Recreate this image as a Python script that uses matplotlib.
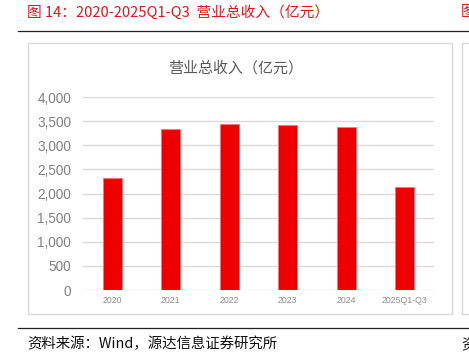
import matplotlib
matplotlib.use('Agg')
import matplotlib.pyplot as plt
from matplotlib.patches import Rectangle
from matplotlib.lines import Line2D

plt.rcParams['font.family'] = ['Noto Sans CJK SC', 'DejaVu Sans']

years = ['2020', '2021', '2022', '2023', '2024', '2025Q1-Q3']
revenue = [2327, 3343, 3440, 3426, 3378, 2128]
yticks = [0, 500, 1000, 1500, 2000, 2500, 3000, 3500, 4000]

W, H = 469, 353
fig = plt.figure(figsize=(W / 100, H / 100), dpi=100)

def fx(x):
    return x / W

def fy(y):
    return 1 - y / H

# header / footer
fig.text(fx(27), fy(12), '图 14：2020-2025Q1-Q3  营业总收入（亿元）', color='#E8141B',
         fontsize=10.6, va='center', ha='left')
fig.text(fx(461), fy(12), '图', color='#E8141B', fontsize=10.6, va='center', ha='left')
fig.add_artist(Line2D([fx(18), 1], [fy(31), fy(31)], color='#222222', lw=0.9))
fig.add_artist(Line2D([fx(18), 1], [fy(328), fy(328)], color='#222222', lw=0.9))
fig.text(fx(27), fy(344), '资料来源：Wind，源达信息证券研究所', color='#111111',
         fontsize=10.4, va='center', ha='left')
fig.text(fx(461), fy(344), '资', color='#111111', fontsize=10.4, va='center', ha='left')

# chart frame
fig.add_artist(Rectangle((fx(27.5), fy(314)), fx(452) - fx(27.5), fy(43) - fy(314),
                         fill=False, ec='#D9D9D9', lw=1))
fig.add_artist(Rectangle((fx(461.5), fy(314)), 0.1, fy(43) - fy(314),
                         fill=False, ec='#D9D9D9', lw=1))

fig.text(fx(236), fy(68), '营业总收入（亿元）', color='#595959', fontsize=10.8,
         va='center', ha='center')

ax = fig.add_axes([fx(83), fy(290), fx(434) - fx(83), fy(97) - fy(290)])
x = range(len(years))
ax.bar(x, revenue, width=0.32, color='#EE0000', edgecolor='#F4777A', linewidth=0.6, zorder=3)
ax.set_xlim(-0.5, len(years) - 0.5)
ax.set_ylim(0, 4000)
ax.set_yticks(yticks)
ax.set_yticklabels([f'{v:,}' for v in yticks], fontfamily='Liberation Sans',
                   fontsize=9.8, color='#808080')
ax.set_xticks(list(x))
ax.set_xticklabels(years, fontfamily='Liberation Sans', fontsize=6.3, color='#8C8C8C')
ax.tick_params(axis='y', length=0, pad=8.5)
ax.tick_params(axis='x', length=0, pad=4)
ax.grid(axis='y', color='#D9D9D9', lw=1, zorder=0)
for s in ax.spines.values():
    s.set_visible(False)

fig.savefig('out.png', dpi=100)
